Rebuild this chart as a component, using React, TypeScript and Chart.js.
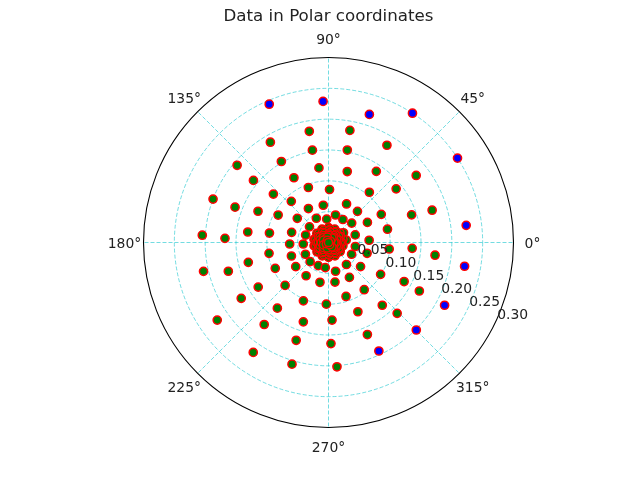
import { useEffect, useRef } from 'react';
import { Chart, registerables } from 'chart.js';
import type { Plugin } from 'chart.js';

Chart.register(...registerables);

// green points, polar angle in degrees and radius
const GREEN_THETA = [
  99.8, 120.1, 99.9, 120.2, 139.8, 97.3, 118.1, 140.4, 110.1, 88.9,
  138.7, 159.4, 132.1, 159.3, 120.6, 98.0, 156.1, 151.4, 142.3, 116.6,
  94.4, 140.5, 176.7, 177.7, 172.6, 170.9, 164.6, 161.9, 79.2, 59.0,
  78.5, 75.2, 56.1, 37.4, 50.9, 38.4, 64.9, 47.1, 28.1, 18.4,
  17.3, 75.7, 58.0, 39.9, 27.3, 12.7, 15.8, 3.2, 182.2, 183.4,
  190.3, 200.0, 207.0, 193.9, 193.0, 196.0, 205.9, 216.4, 226.2, 246.1,
  262.7, 236.0, 224.7, 212.4, 257.9, 212.6, 246.7, 232.1, 268.0, 214.9,
  231.9, 252.4, 272.6, 251.7, 271.4, 235.6, 253.3, 353.9, 356.0, 351.5,
  344.4, 353.2, 323.1, 309.2, 333.0, 283.8, 328.6, 300.9, 332.7, 279.3,
  307.1, 331.9, 288.0, 310.6, 293.0, 314.1, 292.9, 273.9,
  // dense cluster around the pole
  8, 33,
  13, 39, 65, 90, 116, 142, 168, 193, 219, 245, 270, 296, 322, 347,
  0, 28, 55, 83, 111, 138, 166, 194, 222, 249, 277, 305, 332,
  0, 30, 60, 90, 120, 150, 180, 210, 240, 270, 300, 330,
  15, 48, 80, 113, 146, 179, 211, 244, 277, 310, 342,
  18, 54, 90, 126, 162, 198, 234, 270, 306, 342,
  0, 45, 90, 135, 180, 225, 270, 315,
  0, 51, 103, 154, 206, 257, 309,
  30, 120, 210, 300,
  0,
];
const GREEN_R = [
  0.183, 0.188, 0.152, 0.152, 0.194, 0.122, 0.119, 0.158, 0.095, 0.086,
  0.119, 0.200, 0.090, 0.162, 0.064, 0.061, 0.125, 0.093, 0.064, 0.044,
  0.038, 0.040, 0.205, 0.168, 0.132, 0.097, 0.062, 0.039, 0.185, 0.184,
  0.153, 0.119, 0.139, 0.179, 0.105, 0.140, 0.069, 0.069, 0.097, 0.142,
  0.176, 0.046, 0.044, 0.049, 0.071, 0.098, 0.045, 0.066, 0.063, 0.041,
  0.098, 0.064, 0.042, 0.134, 0.208, 0.169, 0.096, 0.066, 0.043, 0.041,
  0.041, 0.065, 0.099, 0.135, 0.066, 0.168, 0.103, 0.135, 0.100, 0.220,
  0.169, 0.135, 0.126, 0.167, 0.164, 0.216, 0.206, 0.099, 0.136, 0.044,
  0.065, 0.174, 0.065, 0.046, 0.042, 0.048, 0.099, 0.066, 0.138, 0.065,
  0.096, 0.167, 0.092, 0.134, 0.122, 0.160, 0.162, 0.202,
  0.029, 0.029,
  0.024, 0.024, 0.024, 0.024, 0.024, 0.024, 0.024, 0.024, 0.024, 0.024, 0.024, 0.024, 0.024, 0.024,
  0.0215, 0.0215, 0.0215, 0.0215, 0.0215, 0.0215, 0.0215, 0.0215, 0.0215, 0.0215, 0.0215, 0.0215, 0.0215,
  0.019, 0.019, 0.019, 0.019, 0.019, 0.019, 0.019, 0.019, 0.019, 0.019, 0.019, 0.019,
  0.0165, 0.0165, 0.0165, 0.0165, 0.0165, 0.0165, 0.0165, 0.0165, 0.0165, 0.0165, 0.0165,
  0.014, 0.014, 0.014, 0.014, 0.014, 0.014, 0.014, 0.014, 0.014, 0.014,
  0.0115, 0.0115, 0.0115, 0.0115, 0.0115, 0.0115, 0.0115, 0.0115,
  0.009, 0.009, 0.009, 0.009, 0.009, 0.009, 0.009,
  0.004, 0.004, 0.004, 0.004,
  0,
];

// blue points
const BLUE_THETA = [113.2, 92.2, 72.3, 57.0, 33.2, 7.1, 350.1, 331.6, 315.1, 294.9];
const BLUE_R = [0.244, 0.229, 0.218, 0.250, 0.250, 0.225, 0.224, 0.214, 0.201, 0.194];

const R_MAX = 0.3;
const R_TICKS = [0.05, 0.1, 0.15, 0.2, 0.25, 0.3];
const R_TICK_LABELS = ['0.05', '0.10', '0.15', '0.20', '0.25', '0.30'];
const ANGLE_TICKS = [0, 45, 90, 135, 180, 225, 270, 315];
const ANGLE_LABELS = ['0°', '45°', '90°', '135°', '180°', '225°', '270°', '315°'];
const R_LABEL_ANGLE = -25;
const TITLE = 'Data in Polar coordinates';

const toXY = (theta: number[], r: number[]) =>
  theta.map((t, i) => ({
    x: r[i] * Math.cos((t * Math.PI) / 180),
    y: r[i] * Math.sin((t * Math.PI) / 180),
  }));

const FONT = '"DejaVu Sans", sans-serif';

const polarFrame: Plugin<'scatter'> = {
  id: 'polarFrame',
  beforeDatasetsDraw(chart) {
    const { ctx } = chart;
    const xs = chart.scales.x;
    const ys = chart.scales.y;
    const cx = xs.getPixelForValue(0);
    const cy = ys.getPixelForValue(0);
    const px = (r: number) => xs.getPixelForValue(r) - cx;
    ctx.save();
    ctx.strokeStyle = 'rgba(0, 191, 200, 0.55)';
    ctx.lineWidth = 1;
    ctx.setLineDash([4, 2]);
    R_TICKS.slice(0, -1).forEach((r) => {
      ctx.beginPath();
      ctx.arc(cx, cy, px(r), 0, Math.PI * 2);
      ctx.stroke();
    });
    ANGLE_TICKS.forEach((a) => {
      const rad = (a * Math.PI) / 180;
      ctx.beginPath();
      ctx.moveTo(cx, cy);
      ctx.lineTo(cx + px(R_MAX) * Math.cos(rad), cy - px(R_MAX) * Math.sin(rad));
      ctx.stroke();
    });
    ctx.restore();
  },
  afterDatasetsDraw(chart) {
    const { ctx } = chart;
    const xs = chart.scales.x;
    const ys = chart.scales.y;
    const cx = xs.getPixelForValue(0);
    const cy = ys.getPixelForValue(0);
    const px = (r: number) => xs.getPixelForValue(r) - cx;
    ctx.save();
    // outer spine
    ctx.strokeStyle = '#000';
    ctx.lineWidth = 1.1;
    ctx.beginPath();
    ctx.arc(cx, cy, px(R_MAX), 0, Math.PI * 2);
    ctx.stroke();

    ctx.fillStyle = '#222';
    ctx.font = `13.9px ${FONT}`;
    // radial tick labels
    ctx.textAlign = 'left';
    ctx.textBaseline = 'alphabetic';
    const lr = (R_LABEL_ANGLE * Math.PI) / 180;
    R_TICKS.forEach((r, i) => {
      const x = cx + px(r) * Math.cos(lr);
      const y = cy - px(r) * Math.sin(lr);
      ctx.fillText(R_TICK_LABELS[i], x + 1, y - 2);
    });
    // angle labels
    ctx.textAlign = 'center';
    const labR = px(R_MAX) + 19;
    ANGLE_TICKS.forEach((a, i) => {
      const rad = (a * Math.PI) / 180;
      const x = cx + labR * Math.cos(rad);
      const y = cy - labR * Math.sin(rad);
      ctx.fillText(ANGLE_LABELS[i], x, y + 5);
    });
    // title
    ctx.font = `16.7px ${FONT}`;
    ctx.fillText(TITLE, cx, 20.7);
    ctx.restore();
  },
};

export default function App(): React.JSX.Element {
  const canvasRef = useRef<HTMLCanvasElement>(null);

  useEffect(() => {
    document.body.style.margin = '0';
    if (!canvasRef.current) return;
    const chart = new Chart(canvasRef.current, {
      type: 'scatter',
      data: {
        datasets: [
          {
            data: toXY(GREEN_THETA, GREEN_R),
            backgroundColor: 'green',
            borderColor: 'red',
            borderWidth: 1.5,
            pointRadius: 4.1,
          },
          {
            data: toXY(BLUE_THETA, BLUE_R),
            backgroundColor: 'blue',
            borderColor: 'red',
            borderWidth: 1.5,
            pointRadius: 4.1,
          },
        ],
      },
      options: {
        animation: false,
        responsive: false,
        events: [],
        layout: { padding: { left: 143.5, right: 126.5, top: 57.5, bottom: 52.5 } },
        plugins: { legend: { display: false }, tooltip: { enabled: false } },
        scales: {
          x: { type: 'linear', min: -R_MAX, max: R_MAX, display: false },
          y: { type: 'linear', min: -R_MAX, max: R_MAX, display: false },
        },
      },
      plugins: [polarFrame],
    });
    return () => chart.destroy();
  }, []);

  return (
    <div style={{ width: 640, height: 480, background: '#fff' }}>
      <canvas ref={canvasRef} width={640} height={480} />
    </div>
  );
}
